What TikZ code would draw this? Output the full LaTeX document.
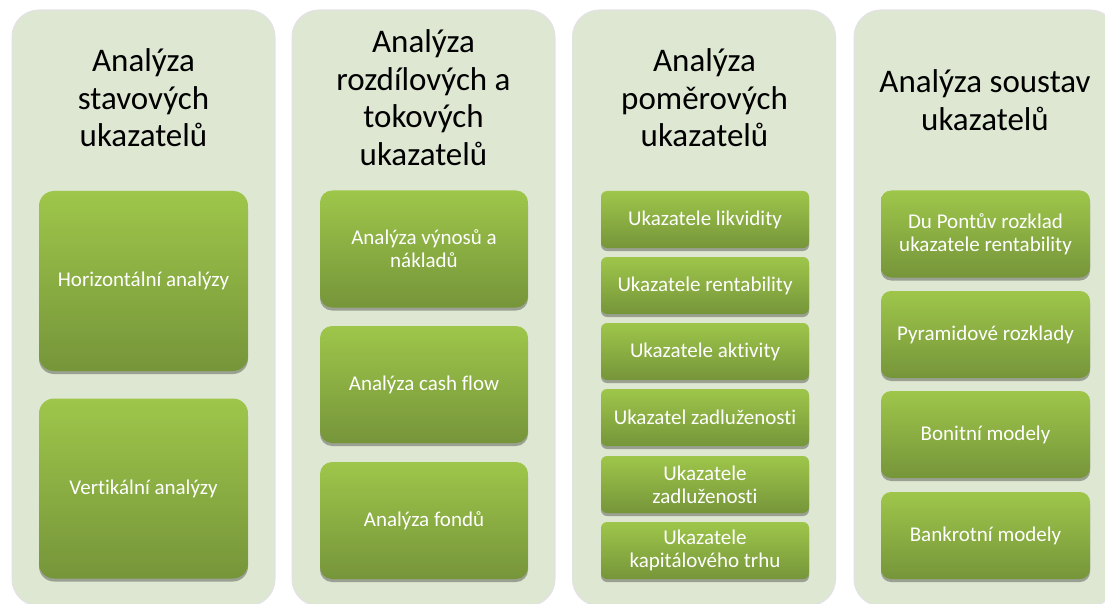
\documentclass[tikz,border=0pt]{standalone}
\usepackage{fontspec}
\setmainfont{Carlito}[Ligatures=NoCommon]
\usetikzlibrary{shadows}
\definecolor{panelbg}{HTML}{DEE7D2}
\definecolor{boxtop}{HTML}{9EC64A}
\definecolor{boxbot}{HTML}{76953A}
\tikzset{
  panel/.style={rectangle, rounded corners=26pt, fill=panelbg, minimum width=261pt, minimum height=594pt, inner sep=0pt,
    preaction={draw=black!25, line width=3pt, opacity=0.45}},
  ttl/.style={font=\fontsize{33}{37.5}\selectfont, text=black, inner sep=0pt},
  gbox/.style={rectangle, top color=boxtop, bottom color=boxbot, draw=none, text=white,
    font=\fontsize{21}{23}\selectfont, align=center, inner sep=2pt,
    drop shadow={shadow xshift=0pt, shadow yshift=-3pt, opacity=0.3, fill=black}},
  bigbox/.style={gbox, rounded corners=15pt, minimum width=209pt, minimum height=180pt},
  midbox/.style={gbox, rounded corners=12pt, minimum width=208pt, minimum height=117pt},
  smallbox/.style={gbox, rounded corners=6pt, minimum width=208pt, minimum height=57pt},
  fourbox/.style={gbox, rounded corners=10pt, minimum width=209pt, minimum height=87pt}
}
\begin{document}
\begin{tikzpicture}[x=1pt,y=-1pt]
\useasboundingbox (0,0) rectangle (1105,604);
\clip (0,0) rectangle (1105,604);
\fill[white] (0,0) rectangle (1105,604);
% panels
\node[panel] (p1) at (143.5,308) {};
\node[panel] (p2) at (423.5,308) {};
\node[panel] (p3) at (704,308) {};
\node[panel] (p4) at (985.5,308) {};
% titles
\node[ttl, anchor=base] (t1) at (143.5,72) {\begin{tabular}[t]{@{}c@{}}Analýza\\stavových\\ukazatelů\end{tabular}};
\node[ttl, anchor=base] (t2) at (423.5,53) {\begin{tabular}[t]{@{}c@{}}Analýza\\rozdílových a\\tokových\\ukazatelů\end{tabular}};
\node[ttl, anchor=base] (t3) at (704.5,72) {\begin{tabular}[t]{@{}c@{}}Analýza\\poměrových\\ukazatelů\end{tabular}};
\node[ttl, anchor=base] (t4) at (985,93) {\begin{tabular}[t]{@{}c@{}}Analýza soustav\\ukazatelů\end{tabular}};
% panel 1
\node[bigbox] (a1) at (143.5,281) {Horizontální analýzy};
\node[bigbox] (a2) at (143.5,488.5) {Vertikální analýzy};
% panel 2
\node[midbox] (b1) at (424,249) {Analýza výnosů a\\nákladů};
\node[midbox] (b2) at (424,384.5) {Analýza cash flow};
\node[midbox] (b3) at (424,520.5) {Analýza fondů};
% panel 3
\node[smallbox] (c1) at (705,219.5) {Ukazatele likvidity};
\node[smallbox] (c2) at (705,285.5) {Ukazatele rentability};
\node[smallbox] (c3) at (705,351.5) {Ukazatele aktivity};
\node[smallbox] (c4) at (705,417.5) {Ukazatel zadluženosti};
\node[smallbox] (c5) at (705,484.5) {Ukazatele\\zadluženosti};
\node[smallbox] (c6) at (705,550.5) {Ukazatele\\kapitálového trhu};
% panel 4
\node[fourbox] (d1) at (985.5,234) {Du Pontův rozklad\\ukazatele rentability};
\node[fourbox] (d2) at (985.5,334.5) {Pyramidové rozklady};
\node[fourbox] (d3) at (985.5,434.5) {Bonitní modely};
\node[fourbox] (d4) at (985.5,535.5) {Bankrotní modely};
\end{tikzpicture}
\end{document}
